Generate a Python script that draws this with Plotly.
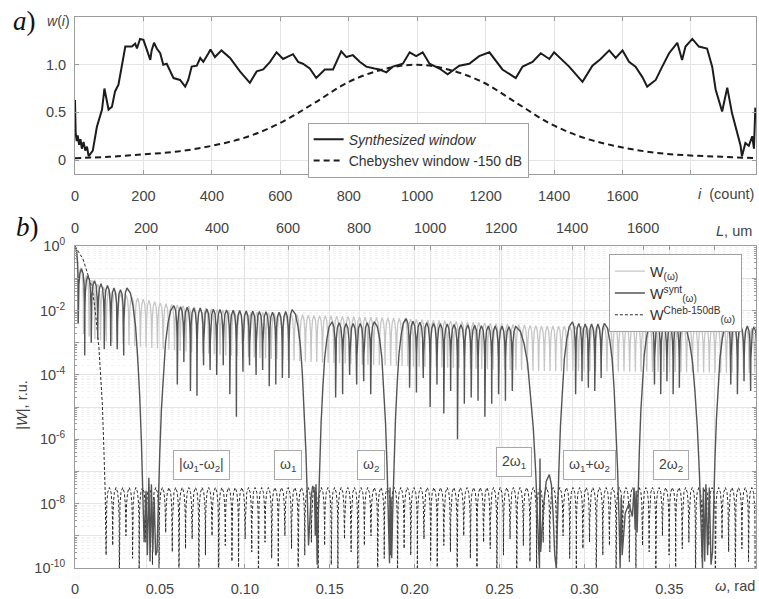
import numpy as np
import plotly.graph_objects as go

# ---------------- panel a) : windows (read from the picture) ----------------
SYN_I = [0, 2, 5, 8, 12, 16, 20, 25, 30, 35, 40, 52, 64, 79, 86, 98, 108, 117, 127, 137,
         147, 166, 176, 181, 190, 200, 210, 220, 224, 231, 239, 249, 258, 268, 288, 307, 322, 331, 341, 356,
         366, 375, 390, 396, 409, 428, 453, 482, 511, 531, 550, 570, 589, 608, 637, 652, 666, 686, 705, 730,
         754, 778, 793, 812, 832, 851, 875, 890, 910, 929, 958, 978, 997, 1016, 1036, 1065, 1089, 1123, 1152, 1181,
         1211, 1225, 1249, 1288, 1308, 1337, 1361, 1386, 1400, 1444, 1483, 1512, 1536, 1561, 1580, 1600, 1619, 1638, 1658, 1672,
         1697, 1716, 1736, 1760, 1774, 1784, 1804, 1823, 1847, 1862, 1872, 1891, 1906, 1920, 1945, 1949, 1959, 1969, 1979, 1984,
         1988]
SYN_W = [0.63, 0.28, 0.20, 0.26, 0.16, 0.22, 0.12, 0.19, 0.10, 0.14, 0.04, 0.10, 0.35, 0.53, 0.75, 0.53, 0.56, 0.72, 0.79, 0.98,
         1.19, 1.19, 1.22, 1.17, 1.27, 1.26, 1.15, 1.05, 1.15, 1.23, 1.17, 1.12, 1.00, 1.01, 0.86, 0.84, 0.77, 0.84, 0.98, 0.99,
         1.07, 1.03, 1.12, 1.16, 1.08, 1.15, 1.07, 0.93, 0.81, 0.93, 0.95, 1.03, 1.13, 1.06, 1.11, 1.03, 1.01, 0.96, 0.86, 0.95,
         0.95, 1.14, 1.08, 1.10, 1.03, 0.98, 0.96, 0.95, 0.92, 0.98, 1.01, 1.13, 1.09, 1.13, 1.01, 0.96, 0.90, 0.99, 1.01, 1.09,
         1.13, 1.06, 0.95, 0.86, 0.98, 1.03, 1.12, 1.06, 1.13, 0.98, 0.82, 0.99, 1.06, 1.15, 1.07, 1.15, 1.03, 0.98, 0.87, 0.77,
         0.84, 0.98, 1.12, 1.23, 1.05, 1.19, 1.27, 1.19, 1.17, 0.98, 0.74, 0.51, 0.76, 0.49, 0.15, 0.04, 0.18, 0.15, 0.25, 0.12,
         0.55]
CHEB_I = [0, 100, 200, 300, 400, 500, 600, 700, 800, 900, 995, 1090, 1190, 1290, 1390, 1490, 1590, 1690, 1790, 1890, 1990]
CHEB_W = [0.02, 0.035, 0.06, 0.09, 0.15, 0.24, 0.39, 0.60, 0.82, 0.95, 1.0, 0.95, 0.82, 0.60, 0.38, 0.23, 0.14, 0.08, 0.05, 0.035, 0.02]

I_TICKS = [0, 200, 400, 600, 800, 1000, 1200, 1400, 1600, 1800]
I_TICKTEXT = ["0", "200", "400", "600", "800", "1000", "1200", "1400", "1600", ""]
WA_TICKS = [0, 0.5, 1.0]
WA_TICKTEXT = ["0", "0.5", "1.0"]

# ---------------- panel b) : spectra (levels as log10 exponents) ----------------
# W(omega), light grey comb: lobe spacing and envelope of lobe tops / null floor
W_DW = 0.00335
W_ENV_OM = [0.0, 0.004, 0.012, 0.022, 0.034, 0.052, 0.09, 0.14, 0.18, 0.23, 0.275, 0.33, 0.41]
W_ENV_PEAK = [0.0, -0.8, -1.15, -1.4, -1.58, -1.78, -2.0, -2.15, -2.22, -2.35, -2.48, -2.5, -2.55]
W_ENV_NULL = [-2.2, -2.7, -2.9, -3.0, -3.1, -3.2, -3.4, -3.6, -3.7, -3.8, -3.88, -3.9, -3.95]

# W^synt(omega): bands of side lobes (first / last lobe position, lobe tops, nulls)
SYNT_BAND_START = [0.0, 0.0583, 0.1514, 0.1950, 0.2929, 0.3394, 0.3842]
SYNT_BAND_END = [0.0306, 0.1279, 0.1762, 0.2595, 0.3117, 0.3577, 0.4037]
SYNT_PEAKS = [
    [0.0, -0.7, -0.92, -1.07, -1.17, -1.22, -1.3, -1.35, -1.3],
    [-1.85, -1.88, -1.9, -1.92, -1.93, -1.95, -1.96, -1.97, -1.98, -1.99, -2.0, -2.01, -2.02, -2.03,
     -2.04, -2.05, -2.05, -2.03, -1.97],
    [-2.35, -2.38, -2.4, -2.4, -2.4, -2.38, -2.35],
    [-2.25, -2.33, -2.36, -2.38, -2.4, -2.41, -2.42, -2.43, -2.44, -2.45, -2.46, -2.47, -2.48, -2.48,
     -2.49, -2.5, -2.5],
    [-2.35, -2.4, -2.42, -2.42, -2.42, -2.4],
    [-2.4, -2.45, -2.47, -2.47, -2.47, -2.45],
    [-2.4, -2.45, -2.47, -2.48, -2.5, -2.5],
]
SYNT_NULLS = [
    [-2.4, -3.4, -3.0, -2.9, -3.2, -3.1, -3.2, -3.4],
    [-4.3, -3.6, -4.5, -4.65, -3.7, -3.85, -4.0, -3.7, -4.6, -5.3, -3.9, -3.7, -4.0, -3.85, -4.35, -4.3,
     -4.1, -4.1],
    [-4.7, -4.6, -4.0, -4.3, -4.2, -4.6],
    [-4.4, -4.55, -4.1, -5.0, -4.3, -5.2, -4.5, -6.0, -4.9, -4.7, -4.8, -5.3, -4.9, -4.6, -4.8, -4.5],
    [-4.6, -4.2, -4.4, -4.5, -4.1],
    [-4.3, -4.6, -4.2, -4.6, -4.4],
    [-4.3, -4.6, -4.2, -4.5, -4.4],
]
# deep holes between bands (points of the dark curve near the -150 dB floor)
HOLE_OM = [
    [0.0407, 0.0418, 0.0426, 0.0435, 0.0442, 0.0450, 0.0458, 0.0466, 0.0475, 0.0483],
    [0.1375, 0.1390, 0.1400, 0.1410, 0.1415, 0.1419, 0.1422, 0.1426],
    [0.1852, 0.1855, 0.1858, 0.1861, 0.1865],
    [0.2735, 0.2738, 0.2742, 0.2760, 0.2775, 0.2793, 0.2805, 0.2815, 0.2825, 0.2834],
    [0.3210, 0.3216, 0.3222, 0.3240, 0.3262, 0.3282, 0.3292, 0.3298, 0.3304, 0.3310],
    [0.3695, 0.3700, 0.3708, 0.3715, 0.3725, 0.3735, 0.3745, 0.3754],
]
HOLE_EXP = [
    [-9.2, -7.6, -9.6, -7.2, -9.8, -7.4, -9.5, -7.8, -9.6, -9.5],
    [-9.3, -7.8, -7.45, -7.6, -9.0, -7.4, -9.8, -9.9],
    [-9.85, -7.5, -9.6, -7.8, -9.7],
    [-10.0, -6.6, -9.5, -8.0, -7.3, -7.1, -7.4, -8.3, -9.6, -10.0],
    [-10.0, -7.8, -9.6, -8.3, -8.0, -8.4, -7.5, -8.8, -7.6, -8.9],
    [-10.0, -7.5, -9.8, -7.4, -9.6, -7.5, -9.9, -9.5],
]

# Chebyshev -150 dB spectrum: main lobe, then equiripple side lobes
CHEB_MAIN_OM = [0.0, 0.0047, 0.0102, 0.0122, 0.0141, 0.0161, 0.0170, 0.0178, 0.0183]
CHEB_MAIN_EXP = [0.0, -0.4, -1.32, -2.14, -3.17, -4.9, -6.3, -7.7, -9.6]
CHEB_SIDE_LEVEL = -7.5
CHEB_DW = 0.0039
CHEB_NULLS = [
    -10.6, -9.3, -10.6, -9.0, -9.7, -10.6, -9.2, -9.9, -10.6, -8.9, -9.5,
    -10.6, -9.4, -9.1, -10.6, -9.6, -9.0, -10.6, -9.3, -9.8, -10.6, -9.1,
    -9.5, -10.6, -9.2, -9.7, -10.6, -9.0, -9.4, -10.6, -9.6, -9.2, -10.6,
    -9.3, -9.9, -10.6, -9.1, -9.5, -10.6, -9.3, -9.0, -10.6, -9.7, -9.2,
    -10.6, -9.4, -9.6, -10.6, -9.1, -9.8, -10.6, -9.3, -9.5, -10.6, -9.0,
    -9.7, -10.6, -9.2, -9.4, -10.6, -9.6, -9.1, -10.6, -9.3, -9.8, -10.6,
    -9.2, -9.5, -10.6, -9.0, -9.7, -10.6, -9.4, -9.2, -10.6, -9.6, -9.3,
    -10.6, -9.1, -9.8, -10.6, -9.3, -9.5, -10.6, -9.0, -9.6, -10.6, -9.4,
    -9.2, -10.6, -9.7, -9.3, -10.6, -9.1, -9.5, -10.6, -9.4, -9.8, -10.6,
]

OM_TICKS = [0, 0.05, 0.10, 0.15, 0.20, 0.25, 0.30, 0.35]
OM_TICKTEXT = ["0", "0.05", "0.10", "0.15", "0.20", "0.25", "0.30", "0.35"]
L_RANGE = [0, 1918]
L_TICKS = [0, 200, 400, 600, 800, 1000, 1200, 1400, 1600, 1800]
L_TICKTEXT = ["0", "200", "400", "600", "800", "1000", "1200", "1400", "1600", ""]
LOG_TICKS = [-10, -9, -8, -7, -6, -5, -4, -3, -2, -1, 0]
LOG_TICKTEXT = ["10<sup>-10</sup>", "", "10<sup>-8</sup>", "", "10<sup>-6</sup>", "",
                "10<sup>-4</sup>", "", "10<sup>-2</sup>", "", "10<sup>0</sup>"]

# ---------------- drawing helpers (shape of one lobe / one band edge) ----------------
HALF_F = [0.5, 0.8, 0.94]      # fraction of centre->null distance
HALF_D = [0.15, 0.5, 1.0]      # drop (decades) below the lobe top
ARC_T = [0.0, 0.2, 0.35, 0.5, 0.62, 0.74, 0.84, 0.93, 1.0]
ARC_F = [0.0, 0.02, 0.07, 0.15, 0.27, 0.42, 0.6, 0.8, 1.0]


def descend(c, p, m, q):
    """points from lobe top (c,p) toward null (m,q), null included"""
    pts = [(c + f * (m - c), p - min(d, 0.9 * (p - q))) for f, d in zip(HALF_F, HALF_D)]
    pts.append((m, q))
    return pts


def ascend(m, q, c, p):
    pts = [(c + f * (m - c), p - min(d, 0.9 * (p - q))) for f, d in zip(HALF_F, HALF_D)]
    pts = pts[::-1]
    pts.append((c, p))
    return pts


def chain(centers, peaks, nulls_pos, nulls_dep):
    pts = [(centers[0], peaks[0])]
    for k in range(len(nulls_pos)):
        pts += descend(centers[k], peaks[k], nulls_pos[k], nulls_dep[k])
        pts += ascend(nulls_pos[k], nulls_dep[k], centers[k + 1], peaks[k + 1])
    return pts


def arc(x0, y0, x1, y1):
    return [(x0 + t * (x1 - x0), y0 + f * (y1 - y0)) for t, f in zip(ARC_T, ARC_F)]


# light grey W(omega)
n_w = int(0.41 / W_DW) + 1
w_c = [k * W_DW for k in range(n_w)]
w_m = [(k + 0.5) * W_DW for k in range(n_w - 1)]
w_pts = chain(w_c, list(np.interp(w_c, W_ENV_OM, W_ENV_PEAK)), w_m, list(np.interp(w_m, W_ENV_OM, W_ENV_NULL)))

# dark W^synt(omega)
s_pts = []
for b in range(len(SYNT_BAND_START)):
    pk, nl = SYNT_PEAKS[b], SYNT_NULLS[b]
    n = len(nl)
    cs = [SYNT_BAND_START[b] + k * (SYNT_BAND_END[b] - SYNT_BAND_START[b]) / n for k in range(n + 1)]
    ms = [(cs[k] + cs[k + 1]) / 2 for k in range(n)]
    if b > 0:
        hx, hy = HOLE_OM[b - 1], HOLE_EXP[b - 1]
        s_pts += arc(cs[0], pk[0], hx[-1], hy[-1])[::-1][1:]
    s_pts += chain(cs, pk, ms, nl)
    if b < len(HOLE_OM):
        hx, hy = HOLE_OM[b], HOLE_EXP[b]
        s_pts += arc(cs[-1], pk[-1], hx[0], hy[0])[1:]
        s_pts += list(zip(hx[1:], hy[1:]))

# Chebyshev spectrum
c_pts = list(zip(CHEB_MAIN_OM, CHEB_MAIN_EXP))
m0 = CHEB_MAIN_OM[-1]
for k in range(len(CHEB_NULLS) - 1):
    ma, mb = m0 + k * CHEB_DW, m0 + (k + 1) * CHEB_DW
    cc = (ma + mb) / 2
    qa = CHEB_MAIN_EXP[-1] if k == 0 else CHEB_NULLS[k]
    c_pts += ascend(ma, qa, cc, CHEB_SIDE_LEVEL)
    c_pts += descend(cc, CHEB_SIDE_LEVEL, mb, CHEB_NULLS[k + 1])


def xy(pts):
    x = [p[0] for p in pts]
    y = [10 ** p[1] for p in pts]
    return x, y


FONT = "Liberation Sans, Arial, sans-serif"
TXT = "#444444"
AX = "#9c9c9c"
GRID = "#e4e4e4"

fig = go.Figure()
fig.add_trace(go.Scatter(x=SYN_I, y=SYN_W, mode="lines", name="<i>Synthesized window</i>",
                         line=dict(color="#1c1c1c", width=2), xaxis="x", yaxis="y", legend="legend"))
fig.add_trace(go.Scatter(x=CHEB_I, y=CHEB_W, mode="lines", name="Chebyshev window -150 dB",
                         line=dict(color="#1c1c1c", width=2, dash="6px,4px", shape="spline"),
                         xaxis="x", yaxis="y", legend="legend"))

wx, wy = xy(w_pts)
fig.add_trace(go.Scatter(x=wx, y=wy, mode="lines", name="W<sub>(ω)</sub>", legendrank=1,
                         line=dict(color="#c6c6c6", width=1.3), xaxis="x2", yaxis="y2", legend="legend2"))
cx, cy = xy(c_pts)
fig.add_trace(go.Scatter(x=cx, y=cy, mode="lines", name="W<sup>Cheb-150dB</sup><sub>(ω)</sub>", legendrank=3,
                         line=dict(color="#2a2a2a", width=1, dash="3px,2px"), xaxis="x2", yaxis="y2",
                         legend="legend2"))
sx, sy = xy(s_pts)
fig.add_trace(go.Scatter(x=sx, y=sy, mode="lines", name="W<sup>synt</sup><sub>(ω)</sub>", legendrank=2,
                         line=dict(color="#555555", width=1.4), xaxis="x2", yaxis="y2", legend="legend2"))
# invisible carrier so that the top L axis is drawn
fig.add_trace(go.Scatter(x=L_RANGE, y=[1e-5, 1e-5], mode="lines", line=dict(width=0, color="rgba(0,0,0,0)"),
                         showlegend=False, hoverinfo="skip", xaxis="x3", yaxis="y2"))

axis_common = dict(showline=True, linecolor=AX, linewidth=1, ticks="inside", ticklen=4, tickcolor=AX,
                   gridcolor=GRID, zeroline=False, tickfont=dict(family=FONT, size=14.5, color=TXT))

fig.update_layout(
    width=759, height=599, margin=dict(l=75, r=2, t=17, b=29),
    paper_bgcolor="white", plot_bgcolor="white",
    font=dict(family=FONT, color=TXT),
    xaxis=dict(domain=[0, 1], anchor="y", range=[0, 1990], tickmode="array", tickvals=I_TICKS,
               ticktext=I_TICKTEXT, mirror="ticks", ticklabelstandoff=8, **axis_common),
    yaxis=dict(domain=[0.7143, 1], anchor="x", range=[-0.15, 1.5], tickmode="array", tickvals=WA_TICKS,
               ticktext=WA_TICKTEXT, mirror="ticks", ticklabelstandoff=5, **axis_common),
    xaxis2=dict(domain=[0, 1], anchor="y2", range=[0, 0.401], tickmode="array", tickvals=OM_TICKS,
                ticktext=OM_TICKTEXT, mirror="ticks", ticklabelstandoff=8, **axis_common),
    xaxis3=dict(overlaying="x2", side="top", anchor="y2", range=L_RANGE, tickmode="array",
                tickvals=L_TICKS, ticktext=L_TICKTEXT, ticklabelstandoff=6, showticklabels=True,
                **axis_common),
    yaxis2=dict(domain=[0, 0.5841], anchor="x2", type="log", range=[-10, 0], tickmode="array",
                tickvals=[10 ** v for v in LOG_TICKS], ticktext=LOG_TICKTEXT, mirror="ticks",
                ticklabelstandoff=6,
                minor=dict(dtick="D1", ticks="inside", ticklen=2, tickcolor=AX, showgrid=True,
                           gridcolor="#f2f2f2", griddash="dot"),
                **axis_common),
    legend=dict(x=0.3416, y=0.8083, xanchor="left", yanchor="top", bgcolor="white", bordercolor="#a0a0a0",
                borderwidth=1, font=dict(family=FONT, size=14, color="#333"), itemwidth=30,
                tracegroupgap=0),
    legend2=dict(x=0.784, y=0.5696, xanchor="left", yanchor="top", bgcolor="white", bordercolor="#a0a0a0",
                 borderwidth=1, font=dict(family=FONT, size=14.5, color="#333"), itemwidth=30,
                 tracegroupgap=0),
    showlegend=True,
)


def P(xpx, ypx):
    return (xpx - 75) / 682, (570 - ypx) / 553


anns = []


def text(s, xpx, ypx, size=14.5, family=FONT, xanchor="center", **kw):
    x, y = P(xpx, ypx)
    anns.append(dict(text=s, x=x, y=y, xref="paper", yref="paper", showarrow=False, xanchor=xanchor,
                     yanchor="middle", font=dict(family=family, size=size, color=kw.pop("color", TXT)), **kw))


SERIF = "Liberation Serif, Times New Roman, serif"
text("<i>a</i>)", 24, 21, size=27, family=SERIF, color="#111")
text("<i>b</i>)", 27, 228, size=27, family=SERIF, color="#111")
text("<i>w</i>(<i>i</i>)", 58, 21, size=14)
text("<i>i</i>  (count)", 757, 195, xanchor="right")
text("<i>L</i>, um", 755, 232, xanchor="right")
text("<i>ω</i>, rad", 758, 588, xanchor="right")
text("|<i>W</i>|, r.u.", 22, 407, textangle=-90)

BOX_LABELS = ["|ω<sub>1</sub>-ω<sub>2</sub>|", "ω<sub>1</sub>", "ω<sub>2</sub>", "2ω<sub>1</sub>",
              "ω<sub>1</sub>+ω<sub>2</sub>", "2ω<sub>2</sub>"]
BOX_PX = [(202, 467), (288, 467), (371, 467), (515, 464), (590, 467), (672, 467)]
for s, (bx, by) in zip(BOX_LABELS, BOX_PX):
    text(s, bx, by, size=14, bordercolor="#a8a8a8", borderwidth=1, borderpad=5, bgcolor="white")

fig.update_layout(annotations=anns)
fig.write_html("out.html")
